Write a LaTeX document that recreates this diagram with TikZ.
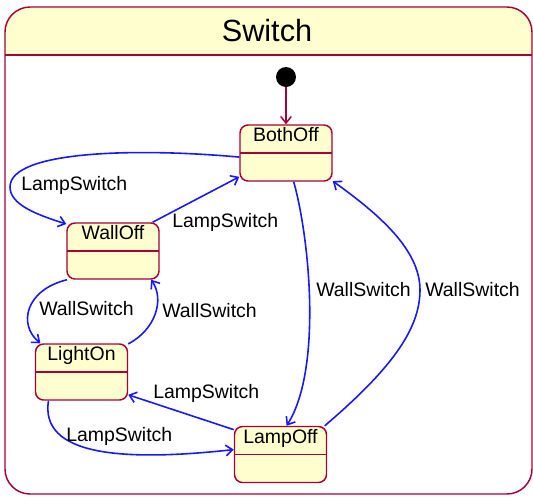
\documentclass[tikz,border=0pt]{standalone}
\usepackage{fontspec}
\setmainfont{Liberation Sans}
\usetikzlibrary{arrows.meta}
\definecolor{umlred}{RGB}{168,0,54}
\definecolor{umlyellow}{RGB}{254,254,206}
\definecolor{transblue}{RGB}{25,25,255}

\tikzset{
  state/.style={draw=umlred, fill=umlyellow, line width=1.1pt, rounded corners=6pt,
    minimum width=69pt, minimum height=42pt, inner sep=0pt,
    path picture={\draw[umlred, line width=1.4pt] (path picture bounding box.west) -- (path picture bounding box.east);}},
  statename/.style={anchor=north, inner sep=2.5pt, font=\fontsize{14.6}{17}\selectfont},
  trans/.style={draw=transblue, line width=1.2pt, -{Straight Barb[length=5pt,width=8pt]}},
  lbl/.style={anchor=west, inner sep=0pt, font=\fontsize{14.6}{17}\selectfont},
}

\begin{document}
\begin{tikzpicture}[x=0.75pt,y=-0.75pt]
  \useasboundingbox (0,0) rectangle (533,497);

  % Rahmen des Zustands Switch
  \begin{scope}
    \clip (5,7) rectangle (532,55);
    \fill[umlyellow, rounded corners=18.75pt] (5,7) rectangle (532,494);
  \end{scope}
  \draw[umlred, line width=1.1pt, rounded corners=18.75pt] (5,7) rectangle (532,494);
  \draw[umlred, line width=1.1pt] (5,55) -- (532,55);
  \node[font=\fontsize{23}{27}\selectfont] (title) at (267,31) {Switch};

  % Startpunkt
  \node[circle, fill=black, minimum size=15pt, inner sep=0pt] (init) at (286,77) {};

  % Zustaende
  \node[state, label={[statename]north:BothOff}] (bothoff) at (286,153) {};
  \node[state, label={[statename]north:WallOff}] (walloff) at (113,251) {};
  \node[state, label={[statename]north:LightOn}] (lighton) at (81.5,372) {};
  \node[state, label={[statename]north:LampOff}] (lampoff) at (280.5,454.5) {};

  \draw[umlred, line width=1.1pt, -{Straight Barb[length=5pt,width=8pt]}] (init) -- (bothoff.north);

  % Uebergaenge
  \draw[trans] (bothoff.185) .. controls (140,148) and (10,150) .. (10,187)
    .. controls (10,205) and (38,215) .. (walloff.150);
  \draw[trans] (walloff.36) -- (bothoff.207);
  \draw[trans] (walloff.212) .. controls (25,290) and (18,325) .. (lighton.145);
  \draw[trans] (lighton.31) .. controls (155,330) and (165,300) .. (walloff.323);
  \draw[trans] (lampoff.152) -- (lighton.334);
  \draw[trans] (lighton.221) .. controls (40,455) and (120,462) .. (lampoff.174);
  \draw[trans] (bothoff.285) .. controls (310,240) and (322,370) .. (lampoff.78);
  \draw[trans] (lampoff.33) .. controls (390,370) and (420,330) .. (420,290)
    .. controls (420,250) and (380,215) .. (bothoff.329);

  % Beschriftungen
  \node[lbl] (lbl1) at (21,185) {LampSwitch};
  \node[lbl] (lbl2) at (172,222) {LampSwitch};
  \node[lbl] (lbl3) at (39,309) {WallSwitch};
  \node[lbl] (lbl4) at (162,311) {WallSwitch};
  \node[lbl] (lbl5) at (153,393) {LampSwitch};
  \node[lbl] (lbl6) at (66,436) {LampSwitch};
  \node[lbl] (lbl7) at (316,290) {WallSwitch};
  \node[lbl] (lbl8) at (425,290) {WallSwitch};
\end{tikzpicture}
\end{document}
